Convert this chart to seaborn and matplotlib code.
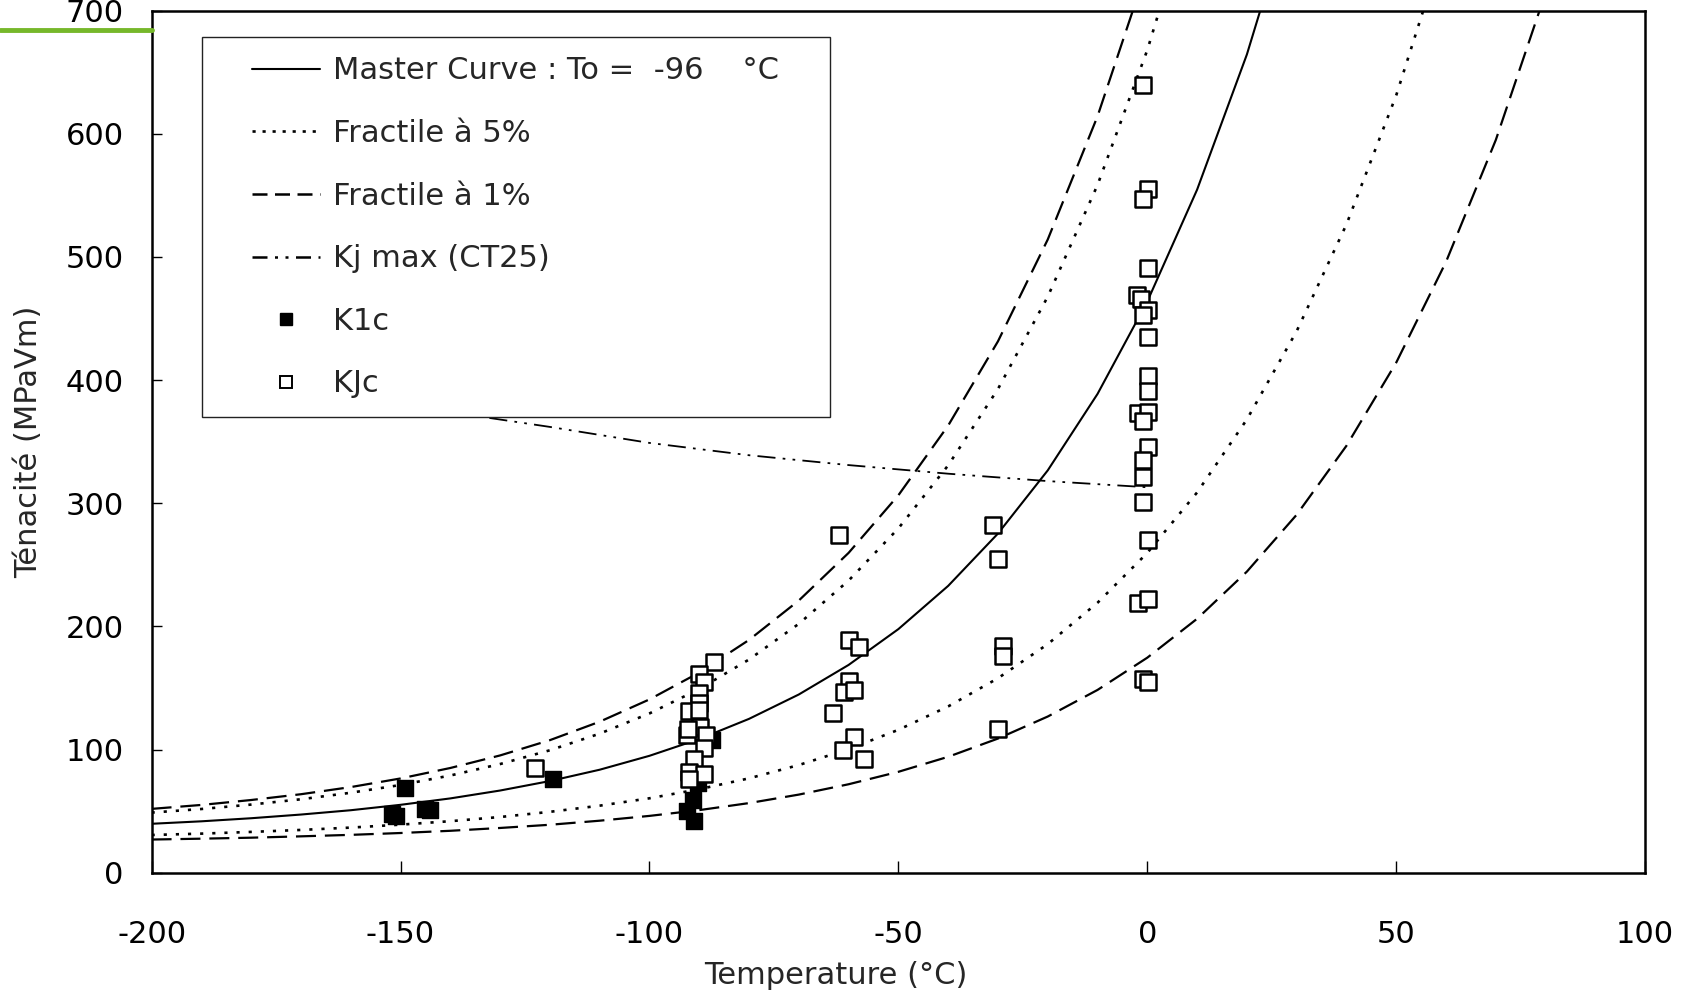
import numpy as np
import pandas as pd
import matplotlib
matplotlib.use("Agg")
import matplotlib.pyplot as plt
from matplotlib.lines import Line2D
from matplotlib.legend_handler import HandlerLine2D
import seaborn as sns

# ---------------- data ----------------
temp_curve = [-200, -190, -180, -170, -160, -150, -140, -130, -120, -110, -100,
              -90, -80, -70, -60, -50, -40, -30, -20, -10, 0, 10, 20, 30,
              40, 50, 60, 70, 80]
master = [39.7, 41.7, 44.2, 47.2, 50.7, 55.1, 60.3, 66.7, 74.4, 83.6, 94.9,
          108.5, 124.9, 144.7, 168.7, 197.8, 232.9, 275.4, 326.7, 388.8, 463.9,
          554.7, 664.5, 797.3, None, None, None, None, None]
frac5_low = [30.6, 31.7, 33.1, 34.7, 36.6, 39.0, 41.8, 45.2, 49.4, 54.4, 60.4,
             67.8, 76.6, 87.4, 100.3, 116.0, 135.0, 157.9, 185.6, 219.2, 259.7,
             308.8, 368.1, 439.8, 526.5, 631.4, 758.2, None, None]
frac5_high = [48.8, 51.7, 55.3, 59.6, 64.9, 71.2, 78.9, 88.2, 99.4, 112.9, 129.3,
              149.1, 173.1, 202.1, 237.2, 279.6, 330.8, 392.8, 467.8, 558.5, 668.1,
              800.7, None, None, None, None, None, None, None]
frac1_low = [26.9, 27.6, 28.4, 29.5, 30.7, 32.2, 34.0, 36.3, 38.9, 42.2, 46.1,
             50.8, 56.5, 63.4, 71.8, 81.9, 94.1, 108.9, 126.8, 148.4, 174.6,
             206.2, 244.5, 290.7, 346.7, 414.3, 496.1, 595.1, 714.7]
frac1_high = [51.8, 55.0, 59.0, 63.7, 69.5, 76.5, 85.0, 95.2, 107.6, 122.6, 140.7,
              162.5, 189.0, 221.0, 259.7, 306.5, 363.1, 431.5, 514.2, 614.3, 735.3,
              None, None, None, None, None, None, None, None]

kjmax_T = [-150, -140, -120, -100, -80, -60, -40, -20, 0]
kjmax_K = [382, 374, 362, 349, 339, 331, 324, 318, 313]

k1c_T = [-149.0, -151.8, -151.0, -145.0, -144.0, -119.3, -92.4, -91.2, -91.0, -90.3, -87.5]
k1c_K = [69, 48, 46, 52, 51, 76, 50, 59, 42, 73, 108]

kjc_T = [-123.0,
         -87.0, -90.0, -89.0, -90.0, -90.0, -92.0, -90.0, -89.8, -92.5, -92.3,
         -88.7, -89.0, -91.0, -92.0, -89.0, -92.0,
         -61.9, -59.9, -57.9, -59.9, -60.9, -58.9, -63.1, -58.9, -61.1, -57.0,
         -30.9, -29.9, -28.9, -28.9, -29.9,
         -0.9, 0.2, -0.9, 0.2, -2.0, -1.3, 0.2, -0.9, 0.2, 0.2, 0.2, -1.8, 0.2,
         -0.9, 0.2, -0.9, -0.9, -0.9, 0.2, -1.8, 0.2, -0.9, 0.2]
kjc_K = [85,
         171, 161, 155, 146, 138, 131, 132, 118, 112, 117,
         112, 101, 92, 82, 80, 76,
         274, 189, 183, 156, 147, 148, 130, 110, 99.5, 92,
         282, 255, 184, 176, 117,
         640, 555, 547, 491, 469, 466, 457, 453, 435, 403, 391, 373, 374,
         367, 346, 335, 321, 301, 270, 219, 222, 157, 155]

legend_labels = ["Master Curve : To =  -96    \u00b0C", "Fractile \u00e0 5%",
                 "Fractile \u00e0 1%", "Kj max (CT25)", "K1c", "KJc"]
x_ticks = [-200, -150, -100, -50, 0, 50, 100]
y_ticks = [0, 100, 200, 300, 400, 500, 600, 700]

# ---------------- figure ----------------
sns.set_theme(style="white")
plt.rcParams['font.family'] = ['DejaVu Sans']

fig = plt.figure(figsize=(16.86, 9.92), dpi=100)
ax = fig.add_axes([0.0899, 0.1203, 0.9758 - 0.0899, 0.9892 - 0.1203])

curves = pd.DataFrame({"T": temp_curve, "master": master, "f5l": frac5_low,
                       "f5h": frac5_high, "f1l": frac1_low, "f1h": frac1_high})

dot_ls = (0, (1.2, 3.4))
dash_ls = (0, (9.0, 4.0))
dashdot_ls = (0, (10, 4, 1.5, 4, 1.5, 4))

def draw(col, ls, lw):
    d = curves[["T", col]].dropna()
    sns.lineplot(data=d, x="T", y=col, ax=ax, color="black", linewidth=lw,
                 linestyle=ls, estimator=None, sort=False, zorder=2)

draw("master", "-", 1.5)
draw("f5l", dot_ls, 1.9)
draw("f5h", dot_ls, 1.9)
draw("f1l", dash_ls, 1.6)
draw("f1h", dash_ls, 1.6)

sns.lineplot(x=kjmax_T, y=kjmax_K, ax=ax, color="black", linewidth=1.3,
             linestyle=dashdot_ls, estimator=None, sort=False, zorder=2)

sns.scatterplot(x=k1c_T, y=k1c_K, ax=ax, marker="s", s=125, color="black",
                edgecolor="black", linewidth=1.0, zorder=3)
sns.scatterplot(x=kjc_T, y=kjc_K, ax=ax, marker="s", s=125, facecolor="white",
                edgecolor="black", linewidth=1.8, zorder=4)

ax.set_xlim(-200, 100)
ax.set_ylim(0, 700)
ax.set_xticks(x_ticks)
ax.set_yticks(y_ticks)
ax.set_xticklabels([str(v) for v in x_ticks])
ax.set_yticklabels([str(v) for v in y_ticks])
ax.tick_params(axis="x", direction="in", length=9, width=1, pad=34,
               labelsize=22, colors="black", bottom=True)
ax.tick_params(axis="y", direction="in", length=7, width=1, pad=20,
               labelsize=22, colors="black", left=True)
for sp in ax.spines.values():
    sp.set_color("black")
    sp.set_linewidth(1.8)
    sp.set_visible(True)
ax.grid(False)
ax.set_xlabel("")
ax.set_ylabel("")

fig.text(0.496, 0.017, "Temperature (\u00b0C)", fontsize=22, ha="center", va="center")
fig.text(0.017, 0.555, "T\u00e9nacit\u00e9 (MPaVm)", fontsize=22, ha="center",
         va="center", rotation=90)

handles = [
    Line2D([], [], color="black", linewidth=1.5, linestyle="-"),
    Line2D([], [], color="black", linewidth=1.9, linestyle=(0, (1.2, 2.6))),
    Line2D([], [], color="black", linewidth=1.8, linestyle=(0, (6, 3))),
    Line2D([], [], color="black", linewidth=1.8, linestyle=(0, (6, 3, 1.2, 3, 1.2, 3))),
    Line2D([], [], color="black", marker="s", linestyle="none", markersize=8,
           markerfacecolor="black", markeredgecolor="black"),
    Line2D([], [], color="black", marker="s", linestyle="none", markersize=8,
           markerfacecolor="white", markeredgecolor="black", markeredgewidth=1.4),
]
hmap = {h: HandlerLine2D(xpad=1.0) for h in handles}
leg = ax.legend(handles, legend_labels, loc="upper left",
                bbox_to_anchor=(0.0338, 0.969, 0.4205, 0.0), mode="expand",
                borderaxespad=0, fontsize=22, frameon=True, fancybox=False,
                framealpha=1, edgecolor="#222222", handlelength=3.25,
                handletextpad=0.4, labelspacing=1.1, borderpad=0.62,
                handler_map=hmap)
leg.get_frame().set_linewidth(1.0)
leg.set_zorder(10)

fig.add_artist(Line2D([0.0, 0.0899], [0.9697, 0.9697], transform=fig.transFigure,
                      color="#76b82a", linewidth=3.5))

fig.savefig("out.png", dpi=100)
